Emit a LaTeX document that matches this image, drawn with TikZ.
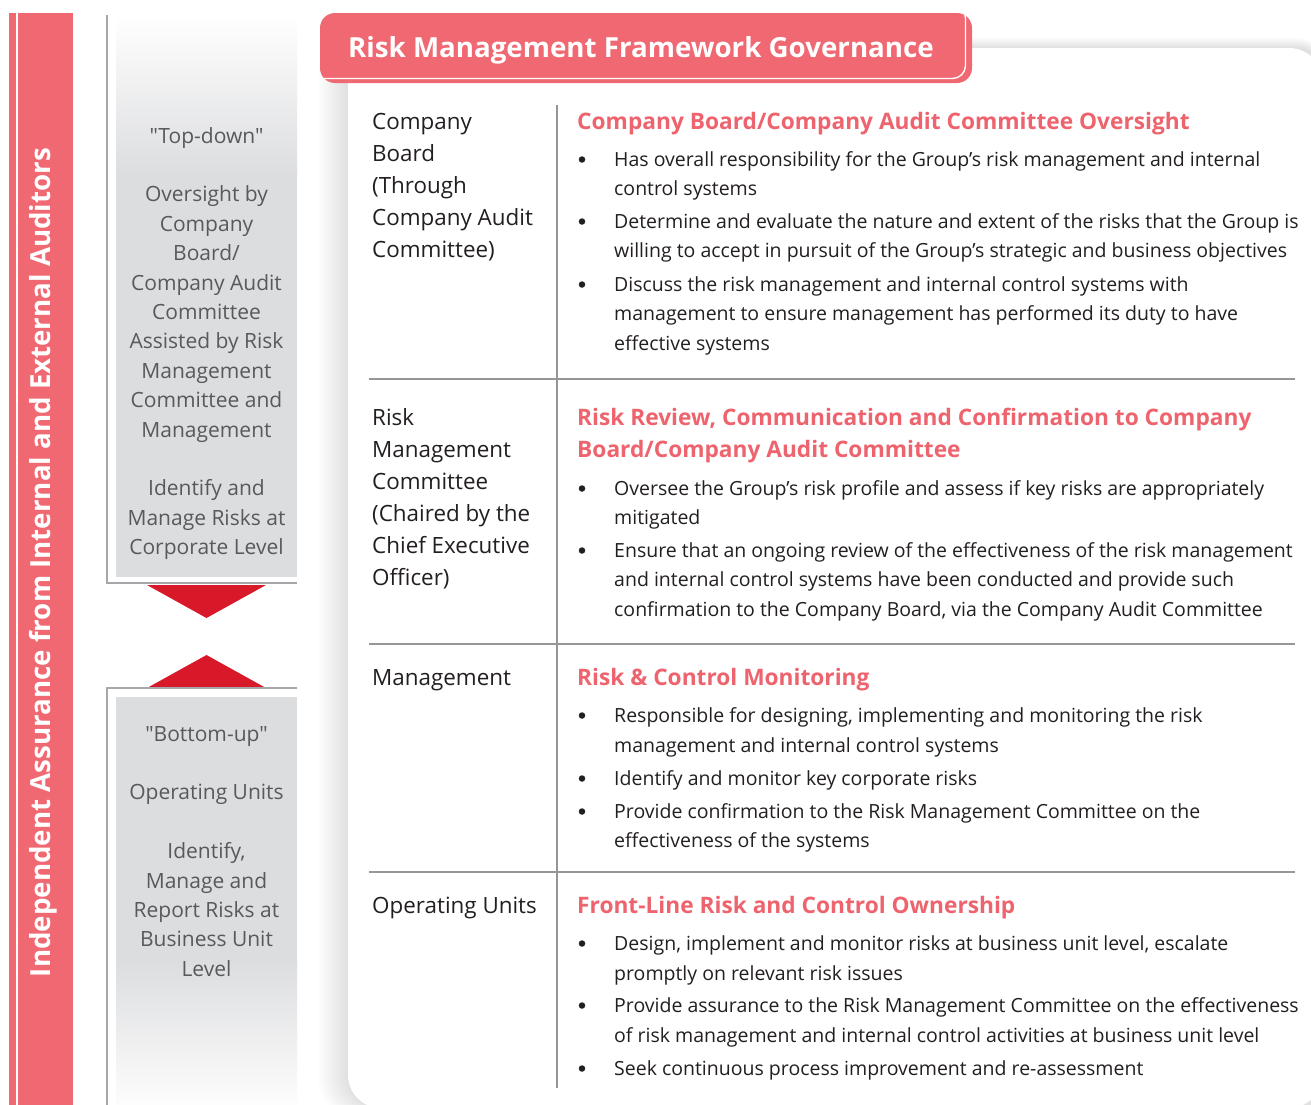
\documentclass[tikz,border=0pt]{standalone}
\usepackage{fontspec}
\setmainfont[Ligatures=TeXOff]{Open Sans}
\definecolor{salmon}{RGB}{240,104,114}
\definecolor{headred}{RGB}{238,100,110}
\definecolor{trired}{RGB}{215,25,42}
\definecolor{boxgray}{RGB}{220,221,223}
\definecolor{graytext}{RGB}{88,89,91}
\definecolor{ink}{RGB}{35,31,32}
\definecolor{rulegray}{RGB}{150,150,152}
\definecolor{sidegray}{RGB}{165,167,170}
\newcommand\fbody{\fontsize{19.5}{24}\selectfont}
\newcommand\fleft{\fontsize{22.4}{26}\selectfont}
\newcommand\fgray{\fontsize{21}{24}\selectfont}
\newcommand\fhead{\fontsize{22.7}{26}\selectfont\bfseries}
\newcommand\ftitle{\fontsize{27.7}{30}\selectfont\bfseries}
\newcommand\fband{\fontsize{27.7}{30}\selectfont\bfseries}
\tikzset{
  txt/.style={inner sep=0pt, anchor=base west, text=ink, font=\fbody},
  lefttxt/.style={txt, font=\fleft},
  headtxt/.style={txt, text=headred, font=\fhead},
  graytxt/.style={inner sep=0pt, anchor=base, text=graytext, font=\fgray},
  bulletdot/.style={circle, fill=ink, inner sep=0pt, minimum size=6.5pt},
  sepline/.style={draw=rulegray, line width=1.6pt},
  sideln/.style={draw=sidegray, line width=1.8pt},
}
\newcommand\Itm[3]{\node[bulletdot] (#1d) at (582,{#2-6.5}) {}; \node[txt] (#1) at (614,#2) {#3};}
\newcommand\Cnt[3]{\node[txt] (#1) at (614,#2) {#3};}
\newcommand\Lft[3]{\node[lefttxt] (#1) at (372,#2) {#3};}
\newcommand\Hd[3]{\node[headtxt] (#1) at (577,#2) {#3};}
\newcommand\Gt[3]{\node[graytxt] (#1) at (206.5,{#2}) {#3};}
\begin{document}
\begin{tikzpicture}[x=1pt,y=-1pt]
\path[use as bounding box, clip] (0,0) rectangle (1311,1104);
\fill[white] (0,0) rectangle (1311,1104);
% red band
\fill[salmon] (9,13) rectangle (73,1110);
\draw[white, line width=2pt] (16.7,13) -- (16.7,1110);
\node[rotate=90, anchor=base, inner sep=0pt, text=white, font=\fband] (band) at (50.5,562.5) {Independent Assurance from Internal and External Auditors};
% gray column
\shade[top color=white, bottom color=boxgray] (116,15) rectangle (297,175);
\fill[boxgray] (116,174.5) rectangle (297,577);
\fill[boxgray] (116,697) rectangle (297,960);
\shade[top color=boxgray, bottom color=white!93!boxgray] (116,959.5) rectangle (297,1104);
\fill[trired] (147,585) -- (266,585) -- (206.5,618) -- cycle;
\fill[trired] (147,688) -- (266,688) -- (206.5,655) -- cycle;
\draw[sideln] (107,15) -- (107,583) -- (297,583);
\draw[sideln] (297,688) -- (107,688) -- (107,1110);
\Gt{g1}{143}{"Top-down"}
\Gt{g2}{143+29.4*2}{Oversight by}
\Gt{g3}{143+29.4*3}{Company}
\Gt{g4}{143+29.4*4}{Board/}
\Gt{g5}{143+29.4*5}{Company Audit}
\Gt{g6}{143+29.4*6}{Committee}
\Gt{g7}{143+29.4*7}{Assisted by Risk}
\Gt{g8}{143+29.4*8}{Management}
\Gt{g9}{143+29.4*9}{Committee and}
\Gt{g10}{143+29.4*10}{Management}
\Gt{g11}{143+29.4*12}{Identify and}
\Gt{g12}{143+29.4*13}{Manage Risks at}
\Gt{g13}{143+29.4*14}{Corporate Level}
\Gt{h1}{741}{"Bottom-up"}
\Gt{h2}{741+29.4*2}{Operating Units}
\Gt{h3}{741+29.4*4}{Identify,}
\Gt{h4}{741+29.4*5}{Manage and}
\Gt{h5}{741+29.4*6}{Report Risks at}
\Gt{h6}{741+29.4*7}{Business Unit}
\Gt{h7}{741+29.4*8}{Level}
% card with shadow
\foreach \i in {1,...,15}
  \fill[black, opacity=0.009, rounded corners=36pt] ({348-2*\i},{48-0.7*\i}) rectangle (1330,{1108+0.5*\i});
\fill[white, rounded corners=33pt] (348,48) rectangle (1322,1108);
% header
\begin{scope}
\fill[salmon, rounded corners=15pt] (320,13) rectangle (972,83);
\clip[rounded corners=15pt] (320,13) rectangle (972,83);
\draw[white, line width=1.4pt, rounded corners=13pt] (310,5) rectangle (965.5,78.5);
\end{scope}
\node[anchor=base west, inner sep=0pt, text=white, font=\ftitle] (title) at (348,57) {Risk Management Framework Governance};
% table rules
\draw[sepline] (557,105) -- (557,1088);
\draw[sepline] (369,379) -- (1295,379);
\draw[sepline] (369,644) -- (1295,644);
\draw[sepline] (369,872) -- (1295,872);
% row 1
\Lft{l1a}{129.5}{Company}
\Lft{l1b}{161.5}{Board}
\Lft{l1c}{193.5}{(Through}
\Lft{l1d}{225.5}{Company Audit}
\Lft{l1e}{257.5}{Committee)}
\Hd{r1h}{129}{Company Board/Company Audit Committee Oversight}
\Itm{r1a}{166}{Has overall responsibility for the Group’s risk management and internal}
\Cnt{r1b}{195}{control systems}
\Itm{r1c}{228}{Determine and evaluate the nature and extent of the risks that the Group is}
\Cnt{r1d}{257}{willing to accept in pursuit of the Group’s strategic and business objectives}
\Itm{r1e}{291}{Discuss the risk management and internal control systems with}
\Cnt{r1f}{320}{management to ensure management has performed its duty to have}
\Cnt{r1g}{350}{effective systems}
% row 2
\Lft{l2a}{425.5}{Risk}
\Lft{l2b}{457.5}{Management}
\Lft{l2c}{489.5}{Committee}
\Lft{l2d}{521.5}{(Chaired by the}
\Lft{l2e}{553.5}{Chief Executive}
\Lft{l2f}{585.5}{Officer)}
\Hd{r2h}{425}{Risk Review, Communication and Confirmation to Company}
\Hd{r2i}{457}{Board/Company Audit Committee}
\Itm{r2a}{495}{Oversee the Group’s risk profile and assess if key risks are appropriately}
\Cnt{r2b}{524}{mitigated}
\Itm{r2c}{557}{Ensure that an ongoing review of the effectiveness of the risk management}
\Cnt{r2d}{586}{and internal control systems have been conducted and provide such}
\Cnt{r2e}{616}{confirmation to the Company Board, via the Company Audit Committee}
% row 3
\Lft{l3a}{685.5}{Management}
\Hd{r3h}{685}{Risk \& Control Monitoring}
\Itm{r3a}{722}{Responsible for designing, implementing and monitoring the risk}
\Cnt{r3b}{752}{management and internal control systems}
\Itm{r3c}{785}{Identify and monitor key corporate risks}
\Itm{r3d}{818}{Provide confirmation to the Risk Management Committee on the}
\Cnt{r3e}{847}{effectiveness of the systems}
% row 4
\Lft{l4a}{913.5}{Operating Units}
\Hd{r4h}{913}{Front-Line Risk and Control Ownership}
\Itm{r4a}{950}{Design, implement and monitor risks at business unit level, escalate}
\Cnt{r4b}{980}{promptly on relevant risk issues}
\Itm{r4c}{1012}{Provide assurance to the Risk Management Committee on the effectiveness}
\Cnt{r4d}{1042}{of risk management and internal control activities at business unit level}
\Itm{r4e}{1075}{Seek continuous process improvement and re-assessment}
\end{tikzpicture}
\end{document}
